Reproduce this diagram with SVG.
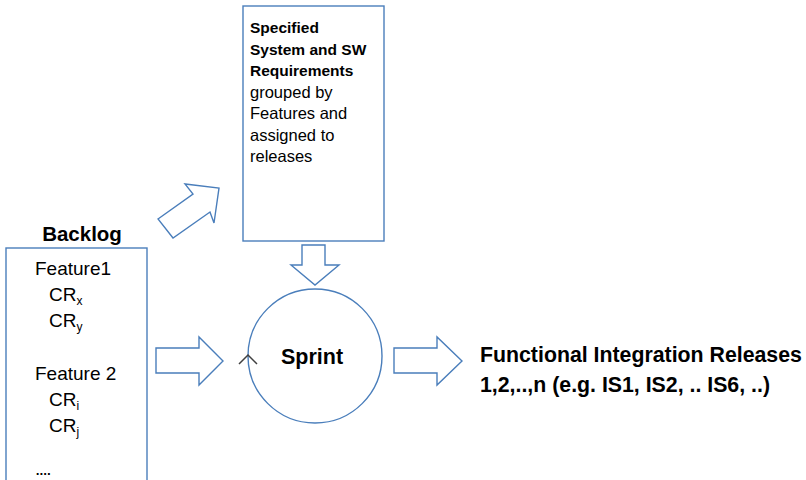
<svg xmlns="http://www.w3.org/2000/svg" width="806" height="480" viewBox="0 0 806 480">
  <style>
    .shape { fill: #ffffff; stroke: #4a7ebb; stroke-width: 1.4; }
    .txt { font-family: "Liberation Sans", Arial, sans-serif; fill: #000000; }
    .b { font-weight: bold; }
  </style>
  <rect width="806" height="480" fill="#ffffff"/>

  <!-- Backlog list -->
  <g id="backlog">
    <text class="txt b" x="82" y="241" font-size="20.5" text-anchor="middle">Backlog</text>
    <rect class="shape" x="6" y="248" width="141" height="240"/>
    <text class="txt" font-size="19">
      <tspan x="35" y="275">Feature1</tspan>
      <tspan x="49" y="301">CR<tspan font-size="12" dy="4">x</tspan></tspan>
      <tspan x="49" y="327">CR<tspan font-size="12" dy="4">y</tspan></tspan>
      <tspan x="35" y="380">Feature 2</tspan>
      <tspan x="49" y="406">CR<tspan font-size="12" dy="4">i</tspan></tspan>
      <tspan x="49" y="432">CR<tspan font-size="12" dy="4">j</tspan></tspan>
      <tspan x="35" y="475" letter-spacing="-1.5">....</tspan>
    </text>
  </g>

  <!-- Requirements box -->
  <g id="requirements">
    <rect class="shape" x="243" y="6" width="141" height="235"/>
    <text class="txt" x="250">
      <tspan class="b" font-size="15.5" x="250" y="33">Specified</tspan>
      <tspan class="b" font-size="15.5" x="250" y="55">System and SW</tspan>
      <tspan class="b" font-size="15.5" x="250" y="76">Requirements</tspan>
      <tspan font-size="16.5" x="250" y="98">grouped by</tspan>
      <tspan font-size="16.5" x="250" y="119">Features and</tspan>
      <tspan font-size="16.5" x="250" y="141">assigned to</tspan>
      <tspan font-size="16.5" x="250" y="162">releases</tspan>
    </text>
  </g>

  <!-- Sprint cycle -->
  <g id="sprint">
    <circle class="shape" cx="315" cy="356" r="67"/>
    <polyline points="239,364 248,355 257,364" fill="none" stroke="#404040" stroke-width="1.5"/>
    <text class="txt b" x="312" y="364" font-size="21.5" text-anchor="middle">Sprint</text>
  </g>

  <!-- Releases -->
  <g id="releases">
    <text class="txt b" font-size="21.3">
      <tspan x="480" y="362">Functional Integration Releases</tspan>
      <tspan x="480" y="392">1,2,..,n (e.g. IS1, IS2, .. IS6, ..)</tspan>
    </text>
  </g>

  <!-- Block arrows -->
  <g id="connectors">
    <polygon class="shape" points="158,219 193,194 185,184 219,188 214,223 210,212 173,238"/>
    <polygon class="shape" points="302,245 325,245 325,265 339,265 315,285 291,265 302,265"/>
    <polygon class="shape" points="156,348 199,348 199,337 223,361 199,385 199,373 156,373"/>
    <polygon class="shape" points="394,348 437,348 437,337 462,361 437,385 437,373 394,373"/>
  </g>
</svg>
